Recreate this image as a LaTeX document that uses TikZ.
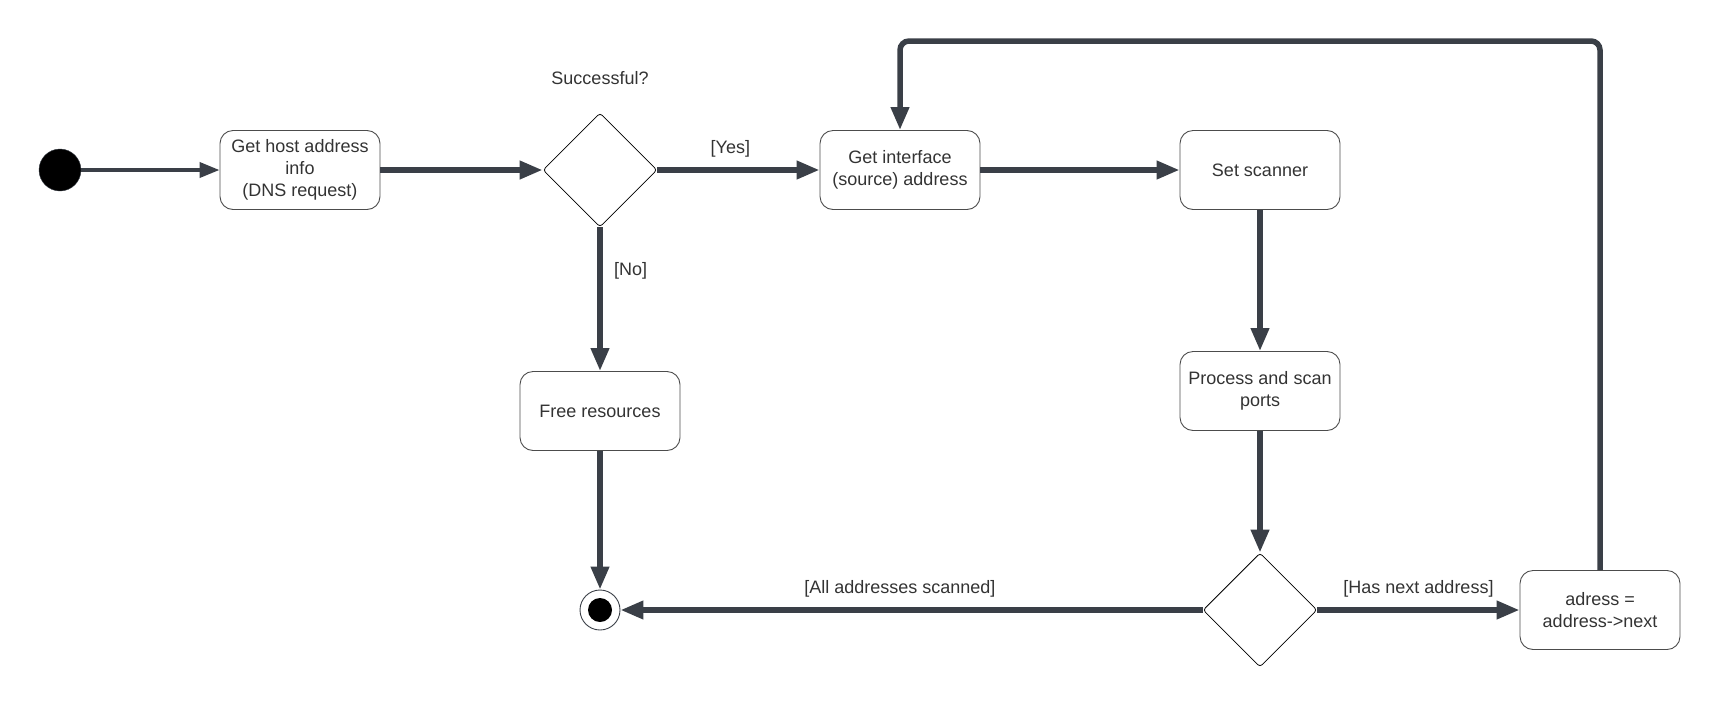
\documentclass[tikz,border=0pt]{standalone}
\usepackage{fontspec}
\setmainfont{Liberation Sans}
\usetikzlibrary{arrows.meta,shapes.geometric}
\definecolor{edgegray}{RGB}{58,63,71}
\definecolor{textgray}{RGB}{51,51,51}

\begin{document}
\begin{tikzpicture}[x=1pt,y=-1pt,
  every node/.style={font=\fontsize{18}{22}\selectfont, text=textgray},
  action/.style={draw=black!70, line width=0.9pt, rounded corners=13pt,
    minimum width=160pt, minimum height=79pt, align=center},
  choice/.style={draw=black, line width=0.8pt, diamond, aspect=1,
    minimum size=114pt, inner sep=0pt, rounded corners=3pt},
  initial/.style={circle, fill=black, draw=edgegray, minimum size=42pt, inner sep=0pt},
  final/.style={circle, draw=edgegray, line width=0.9pt, minimum size=40pt, inner sep=0pt},
  flow/.style={draw=edgegray, line width=5.5pt, -{Triangle[length=23pt,width=17.5pt]}},
  thinflow/.style={draw=edgegray, line width=3.8pt, -{Triangle[length=20pt,width=15pt]}}]
  \useasboundingbox (0,0) rectangle (1720,710);

  % nodes
  \node[initial] (start) at (60,170) {};
  \node[action] (host) at (300,170) {Get host address\\info\\(DNS request)};
  \node[choice] (succ) at (600,170) {};
  \node (succlabel) at (600,78) {Successful?};
  \node[action] (getif) at (900,170) {Get interface\\(source) address};
  \node[action] (scanner) at (1260,170) {Set scanner};
  \node[action] (free) at (600,411) {Free resources};
  \node[action] (process) at (1260,391) {Process and scan\\ports};
  \node[choice] (more) at (1260,610) {};
  \node[action] (next) at (1600,610) {adress =\\address->next};
  \node[final] (stop) at (600,610) {};
  \fill[black] (stop) circle (12);
  \coordinate (loop) at (900,41);

  % connectors
  \draw[thinflow] (start) -- (host);
  \draw[flow] (host) -- (succ);
  \draw[flow] (succ) -- node[pos=0.45, above=7pt] {[Yes]} (getif);
  \draw[flow] (succ) -- node[pos=0.3, right=8pt] {[No]} (free);
  \draw[flow] (getif) -- (scanner);
  \draw[flow] (scanner) -- (process);
  \draw[flow] (process) -- (more);
  \draw[flow] (free) -- (stop);
  \draw[flow] (more) -- node[pos=0.52, above=7pt] {[All addresses scanned]} (stop);
  \draw[flow] (more) -- node[above=7pt] {[Has next address]} (next);
  \draw[flow, rounded corners=9pt] (next) |- (loop) -- (getif);
\end{tikzpicture}
\end{document}
